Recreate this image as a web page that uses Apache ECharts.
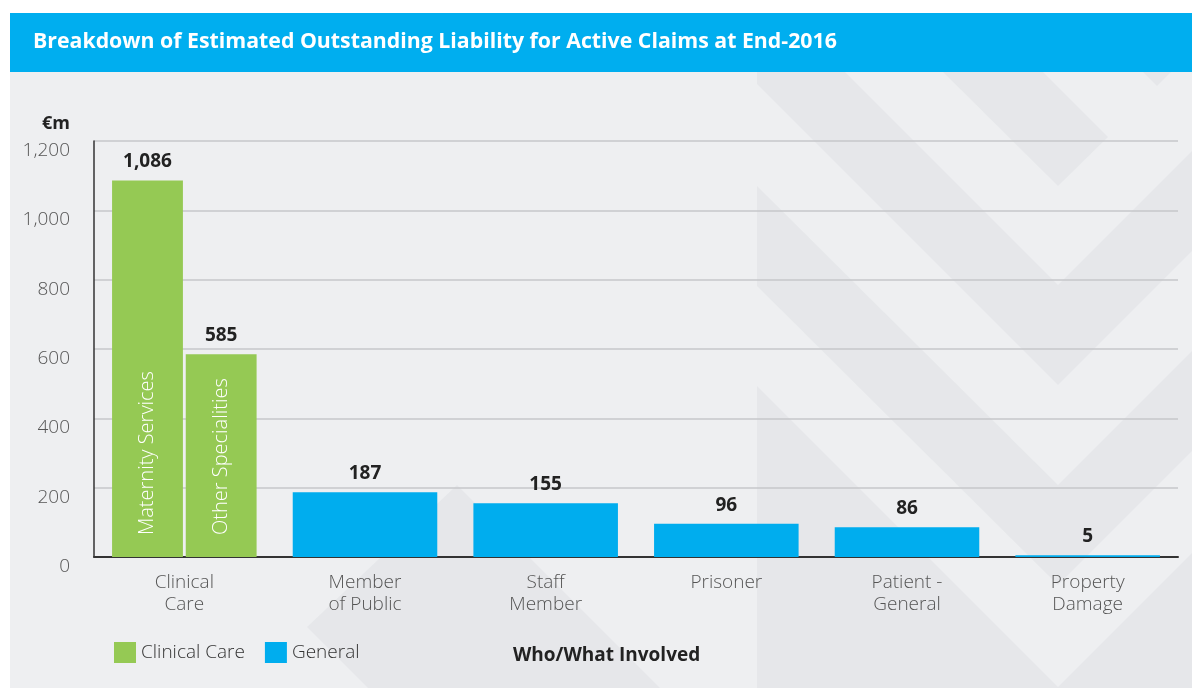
<!DOCTYPE html>
<html>
<head>
<meta charset="utf-8">
<title>Breakdown of Estimated Outstanding Liability for Active Claims at End-2016</title>
<script src="https://cdn.jsdelivr.net/npm/echarts@6/dist/echarts.min.js"></script>
<style>
  html, body { margin: 0; padding: 0; background: #ffffff; }
  #chart { width: 1192px; height: 688px; }
</style>
</head>
<body>
<div id="chart"></div>
<script>
// Who/what is involved in the claim
const categories = ['Clinical\nCare', 'Member\nof Public', 'Staff\nMember', 'Prisoner', 'Patient -\nGeneral', 'Property\nDamage'];
// Clinical care is split into two sub-groups (€m)
const clinicalGroups = ['Maternity Services', 'Other Specialities'];
const maternityValues = [1086, '-', '-', '-', '-', '-'];
const otherSpecValues = [585, '-', '-', '-', '-', '-'];
// General claims (€m)
const generalValues = ['-', 187, 155, 96, 86, 5];
// Value-axis ticks
const yTicks = { min: 0, max: 1200, interval: 200 };

const GREEN = '#95C954';
const BLUE = '#00ADEE';
const FONT = '"Open Sans", "Noto Sans", sans-serif';
const fmt = v => echarts.format.addCommas(v);

const valueLabel = {
  show: true,
  position: 'top',
  distance: 9,
  fontFamily: FONT,
  fontSize: 19,
  fontWeight: 'bold',
  color: '#222'
};

const innerLabel = name => ({
  show: true,
  position: 'insideBottom',
  rotate: 90,
  align: 'left',
  verticalAlign: 'middle',
  distance: 22,
  fontFamily: FONT,
  fontSize: 20,
  fontWeight: 300,
  color: '#ffffff',
  formatter: () => name
});

// a zero-height bar stacked on each clinical bar carries its value label
const topHelper = (stack, values) => ({
  name: 'Clinical Care',
  type: 'bar',
  xAxisIndex: 1,
  stack: stack,
  barGap: '4%',
  barCategoryGap: '20%',
  itemStyle: { color: GREEN },
  data: values.map(v => (v === '-' ? '-' : 0)),
  label: Object.assign({}, valueLabel, {
    formatter: p => fmt(values[p.dataIndex])
  }),
  silent: true
});

// faint chevron watermark behind the plot
const shade = 'rgba(188, 198, 204, 0.17)';
const chevrons = [
  [[943, 72], [1043, 72], [1108, 137], [1058, 186]],
  [[757, 72], [845, 72], [1058, 285], [1192, 151], [1192, 251], [1058, 385], [757, 84]],
  [[757, 186], [1058, 485], [1192, 351], [1192, 451], [1058, 585], [757, 286]],
  [[757, 386], [1058, 687], [1192, 553], [1192, 688], [757, 688]],
  [[1143, 72], [1171, 72], [1157, 86]],
  [[457, 485], [660, 688], [368, 688], [307, 627]]
].map(pts => ({
  type: 'polygon',
  z: -8,
  silent: true,
  shape: { points: pts },
  style: { fill: shade }
}));

const chart = echarts.init(document.getElementById('chart'), null, { renderer: 'canvas' });

chart.setOption({
  animation: false,
  backgroundColor: '#ffffff',
  textStyle: { fontFamily: FONT },
  graphic: [
    { type: 'rect', z: -10, silent: true, shape: { x: 10, y: 72, width: 1182, height: 616 }, style: { fill: '#EEEFF1' } },
    { type: 'rect', z: -9, silent: true, shape: { x: 10, y: 13, width: 1182, height: 59 }, style: { fill: '#00AEEF' } }
  ].concat(chevrons),
  title: [
    {
      text: 'Breakdown of Estimated Outstanding Liability for Active Claims at End-2016',
      left: 33,
      top: 31,
      padding: 0,
      textStyle: { fontFamily: FONT, fontSize: 21.3, fontWeight: 'bold', color: '#ffffff' }
    },
    {
      text: 'Who/What Involved',
      left: 513,
      top: 646,
      padding: 0,
      textStyle: { fontFamily: FONT, fontSize: 19, fontWeight: 'bold', color: '#222' }
    }
  ],
  legend: {
    left: 114,
    top: 642,
    padding: 0,
    icon: 'rect',
    itemWidth: 22,
    itemHeight: 21,
    itemGap: 20,
    selectedMode: false,
    data: ['Clinical Care', 'General'],
    textStyle: { fontFamily: FONT, fontSize: 19, fontWeight: 300, color: '#333' }
  },
  grid: { left: 94, right: 14, top: 141, bottom: 131, containLabel: false },
  xAxis: [
    {
      type: 'category',
      data: categories,
      axisLine: { show: true, lineStyle: { color: '#333', width: 2 } },
      axisTick: { show: false },
      axisLabel: {
        interval: 0,
        margin: 15,
        fontFamily: FONT,
        fontSize: 19,
        fontWeight: 300,
        lineHeight: 22,
        color: '#555'
      },
      splitLine: { show: false }
    },
    {
      type: 'category',
      data: categories,
      show: false
    }
  ],
  yAxis: {
    type: 'value',
    min: yTicks.min,
    max: yTicks.max,
    interval: yTicks.interval,
    name: '€m',
    nameLocation: 'end',
    nameGap: 8,
    nameTextStyle: {
      fontFamily: FONT,
      fontSize: 18,
      fontWeight: 'bold',
      color: '#222',
      align: 'right',
      verticalAlign: 'bottom',
      padding: [0, 24, 0, 0]
    },
    axisLine: { show: true, lineStyle: { color: '#333', width: 1.5 } },
    axisTick: { show: false },
    axisLabel: {
      margin: 24,
      fontFamily: FONT,
      fontSize: 19,
      fontWeight: 300,
      color: '#555',
      verticalAlign: 'top',
      lineHeight: 19,
      formatter: v => fmt(v)
    },
    splitLine: { show: true, lineStyle: { color: '#C6C7CA', width: 1.5 } }
  },
  series: [
    {
      name: 'Clinical Care',
      type: 'bar',
      xAxisIndex: 1,
      stack: 'maternity',
      barGap: '4%',
      barCategoryGap: '20%',
      itemStyle: { color: GREEN },
      data: maternityValues,
      label: innerLabel(clinicalGroups[0])
    },
    topHelper('maternity', maternityValues),
    {
      name: 'Clinical Care',
      type: 'bar',
      xAxisIndex: 1,
      stack: 'other',
      barGap: '4%',
      barCategoryGap: '20%',
      itemStyle: { color: GREEN },
      data: otherSpecValues,
      label: innerLabel(clinicalGroups[1])
    },
    topHelper('other', otherSpecValues),
    {
      name: 'General',
      type: 'bar',
      xAxisIndex: 0,
      barCategoryGap: '20%',
      itemStyle: { color: BLUE },
      data: generalValues,
      label: Object.assign({}, valueLabel, { formatter: p => fmt(p.value) })
    }
  ]
});
</script>
</body>
</html>
